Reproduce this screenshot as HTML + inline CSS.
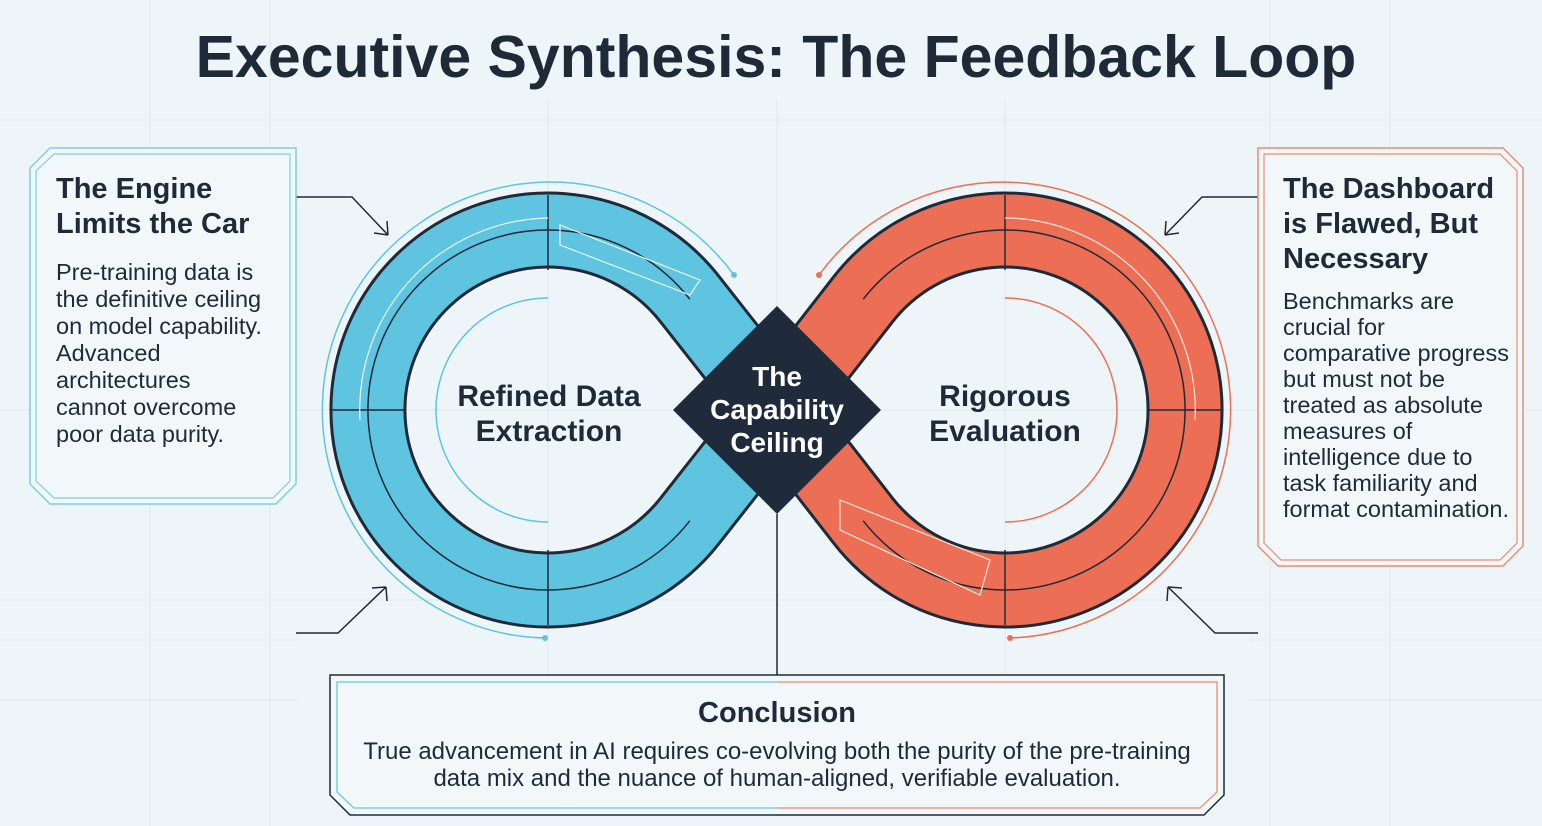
<!DOCTYPE html>
<html><head><meta charset="utf-8">
<style>
html,body{margin:0;padding:0}
body{width:1542px;height:826px;background:#eef5f8;position:relative;overflow:hidden;font-family:"Liberation Sans",sans-serif;color:#1e2a38}
.t{position:absolute;white-space:nowrap}
</style></head><body>
<svg width="1542" height="826" style="position:absolute;left:0;top:0">
 <g stroke="#dde7ec" stroke-width="1">
  <line x1="0" y1="120" x2="1542" y2="120"/><line x1="0" y1="410" x2="1542" y2="410"/>
  <line x1="0" y1="600" x2="1542" y2="600"/><line x1="150" y1="0" x2="150" y2="826"/>
  <line x1="270" y1="0" x2="270" y2="826"/><line x1="1270" y1="0" x2="1270" y2="826"/>
  <line x1="1390" y1="0" x2="1390" y2="826"/><line x1="548" y1="100" x2="548" y2="680"/>
  <line x1="1005" y1="100" x2="1005" y2="680"/><line x1="777" y1="100" x2="777" y2="310"/>
  <line x1="0" y1="640" x2="300" y2="640"/><line x1="1250" y1="640" x2="1542" y2="640"/>
  <line x1="0" y1="700" x2="300" y2="700"/><line x1="1250" y1="700" x2="1542" y2="700"/>
 </g>
 <path d="M734,275 A228,228 0 1 0 545,638" fill="none" stroke="#5ec4e0" stroke-width="1.5"/>
 <path d="M819,275 A228,228 0 1 1 1010,638" fill="none" stroke="#ec6f55" stroke-width="1.5"/>
 <circle cx="734" cy="275" r="3" fill="#5ec4e0"/><circle cx="545" cy="638" r="3" fill="#5ec4e0"/>
 <circle cx="819" cy="275" r="3" fill="#ec6f55"/><circle cx="1010" cy="638" r="3" fill="#ec6f55"/>
 <path d="M777,410 L689.8,299.2 A180,180 0 1 0 689.8,520.8 Z" fill="none" stroke="#1e2a38" stroke-width="77" stroke-linejoin="round"/>
 <path d="M777,410 L863.2,299.2 A180,180 0 1 1 863.2,520.8 Z" fill="none" stroke="#1e2a38" stroke-width="77" stroke-linejoin="round"/>
 <path d="M777,410 L689.8,299.2 A180,180 0 1 0 689.8,520.8 Z" fill="none" stroke="#5ec4e0" stroke-width="71"/>
 <path d="M777,410 L863.2,299.2 A180,180 0 1 1 863.2,520.8 Z" fill="none" stroke="#ec6f55" stroke-width="71"/>
 <path d="M689.8,299.2 A180,180 0 1 0 689.8,520.8" fill="none" stroke="#1e2a38" stroke-width="1.5"/>
 <path d="M863.2,299.2 A180,180 0 1 1 863.2,520.8" fill="none" stroke="#1e2a38" stroke-width="1.5"/>
 <g stroke="#1e2a38" stroke-width="1.5">
  <line x1="548" y1="195" x2="548" y2="270"/><line x1="548" y1="550" x2="548" y2="625"/>
  <line x1="1005" y1="195" x2="1005" y2="270"/><line x1="1005" y1="550" x2="1005" y2="625"/>
  <line x1="332" y1="410" x2="405" y2="410"/><line x1="1148" y1="410" x2="1222" y2="410"/>
 </g>
 <path d="M548,298 A112,112 0 1 0 548,522" fill="none" stroke="#5ec4e0" stroke-width="1.5"/>
 <path d="M1005,298 A112,112 0 1 1 1005,522" fill="none" stroke="#ec6f55" stroke-width="1.5"/>
 <g fill="none" stroke="#e8f7fb" stroke-width="1.2">
  <path d="M548,218 A192,192 0 0 0 360,420"/><path d="M560,225 L700,280 L690,295 L560,245Z"/>
 </g>
 <g fill="none" stroke="#fde6e0" stroke-width="1.2">
  <path d="M1005,218 A192,192 0 0 1 1195,420"/><path d="M840,500 L990,560 L980,595 L840,530Z"/>
 </g>
 <polygon points="777,306 881,410 777,514 673,410" fill="#1f2a3a"/>
 <line x1="777" y1="514" x2="777" y2="675" stroke="#1e2a38" stroke-width="1.5"/>
 <g fill="none" stroke="#1e2a38" stroke-width="1.5">
  <path d="M296,197 H352 L388,235 M388,235 l-14,-2 M388,235 l-1,-14"/>
  <path d="M296,633 H338 L386,587 M386,587 l-14,1 M386,587 l1,14"/>
  <path d="M1258,197 H1202 L1165,235 M1165,235 l14,-2 M1165,235 l1,-14"/>
  <path d="M1258,633 H1215 L1168,587 M1168,587 l14,1 M1168,587 l-1,14"/>
 </g>
 <polygon points="50,148 296,148 296,484 276,504 50,504 30,484 30,168" fill="#f2f8fa" stroke="#7ccfe0" stroke-width="1.5"/>
 <polygon points="54,154 290,154 290,481 273,498 54,498 36,481 36,171" fill="none" stroke="#7ccfe0" stroke-width="1.2"/>
 <polygon points="1258,148 1503,148 1523,168 1523,546 1503,566 1278,566 1258,546" fill="#f2f8fa" stroke="#ec8a75" stroke-width="1.5"/>
 <polygon points="1264,154 1500,154 1517,171 1517,543 1500,560 1281,560 1264,543" fill="none" stroke="#ec8a75" stroke-width="1.2"/>
 <defs><linearGradient id="g" x1="0" x2="1"><stop offset="0.5" stop-color="#7ccfe0"/><stop offset="0.5" stop-color="#ec9a85"/></linearGradient></defs>
 <polygon points="330,675 1224,675 1224,795 1204,815 350,815 330,795" fill="#f2f8fa" stroke="#1e2a38" stroke-width="1.5"/>
 <polygon points="337,682 1217,682 1217,792 1200,808 354,808 337,792" fill="none" stroke="url(#g)" stroke-width="1.5"/>
</svg>
<div class="t" style="left:0;width:1552px;text-align:center;top:23px;font-size:59px;font-weight:bold">Executive Synthesis: The Feedback Loop</div>
<div class="t" style="left:56px;top:172px;font-size:29px;font-weight:bold;line-height:35px">The Engine<br>Limits the Car</div>
<div class="t" style="left:56px;top:259px;font-size:23.5px;line-height:27px">Pre-training data is<br>the definitive ceiling<br>on model capability.<br>Advanced<br>architectures<br>cannot overcome<br>poor data purity.</div>
<div class="t" style="left:1283px;top:172px;font-size:29px;font-weight:bold;line-height:35px">The Dashboard<br>is Flawed, But<br>Necessary</div>
<div class="t" style="left:1283px;top:288px;font-size:23.5px;line-height:26px">Benchmarks are<br>crucial for<br>comparative progress<br>but must not be<br>treated as absolute<br>measures of<br>intelligence due to<br>task familiarity and<br>format contamination.</div>
<div class="t" style="left:400px;width:298px;text-align:center;top:379px;font-size:30px;font-weight:bold;line-height:35px">Refined Data<br>Extraction</div>
<div class="t" style="left:857px;width:296px;text-align:center;top:379px;font-size:30px;font-weight:bold;line-height:35px">Rigorous<br>Evaluation</div>
<div class="t" style="left:677px;width:200px;text-align:center;top:360px;font-size:28px;font-weight:bold;line-height:33px;color:#fff">The<br>Capability<br>Ceiling</div>
<div class="t" style="left:330px;width:894px;text-align:center;top:697px;font-size:29px;font-weight:bold">Conclusion</div>
<div class="t" style="left:330px;width:894px;text-align:center;top:738px;font-size:24px;line-height:27px">True advancement in AI requires co-evolving both the purity of the pre-training<br>data mix and the nuance of human-aligned, verifiable evaluation.</div>
</body></html>
